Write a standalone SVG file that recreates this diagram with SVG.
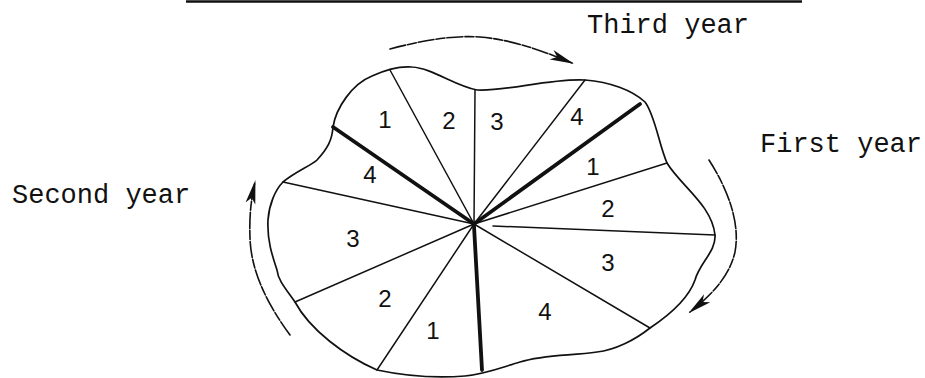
<svg xmlns="http://www.w3.org/2000/svg" width="925" height="378" viewBox="0 0 925 378">
  <style>
    .ink { fill: none; stroke: #111; stroke-linecap: round; stroke-linejoin: round; }
    .outline { stroke-width: 1.7; }
    .thin { stroke-width: 1.5; }
    .thick { stroke-width: 3.8; }
    .arrow { stroke-width: 1.6; stroke-dasharray: 16 2 9 2; }
    .num { font-family: "Liberation Sans", Arial, sans-serif; font-size: 24px; fill: #111; text-anchor: middle; }
    .cap { font-family: "Liberation Mono", "Courier New", monospace; font-size: 27px; fill: #111; }
  </style>
  <defs>
    <marker id="ah" viewBox="0 0 24 12" refX="22" refY="6" markerWidth="24" markerHeight="12" markerUnits="userSpaceOnUse" orient="auto">
      <path d="M0,1 L24,6 L0,11 L6,6 Z" fill="#111"/>
    </marker>
  </defs>
  <rect width="925" height="378" fill="#fff"/>

  <line id="top-rule" x1="186" y1="1.5" x2="802" y2="1.5" stroke="#111" stroke-width="2.6"/>

  <g id="field-outline">
    <path class="ink outline" d="M333,127 C336,108 352,84 372,76 C385,70 400,66 412,67 C432,68 455,86 477,90 C505,92 550,78 585,80 C610,82 632,90 645,102 C655,115 659,145 667,163 C680,185 712,205 715,235 C716,252 700,262 695,280 C688,300 665,318 650,328 C635,340 615,350 597,352 C570,356 545,354 520,362 C500,368 485,374 465,376 C440,378 410,377 377,370 C345,356 310,330 295,302 C285,288 278,280 277,270 C272,255 267,240 268,220 C269,205 275,190 283,182 C295,172 312,165 317,160 C328,148 332,140 333,127 Z"/>
  </g>

  <g id="connectors">
    <line class="ink thin" x1="474" y1="224" x2="390" y2="70"/>
    <line class="ink thin" x1="474" y1="224" x2="475" y2="90"/>
    <line class="ink thin" x1="474" y1="224" x2="585" y2="80"/>
    <line class="ink thick" x1="474" y1="224" x2="640" y2="104"/>
    <line class="ink thin" x1="474" y1="224" x2="667" y2="163"/>
    <line class="ink thin" x1="493" y1="226" x2="715" y2="235"/>
    <line class="ink thin" x1="474" y1="224" x2="650" y2="328"/>
    <line class="ink thick" x1="474" y1="226" x2="482" y2="370"/>
    <line class="ink thin" x1="474" y1="224" x2="377" y2="370"/>
    <line class="ink thin" x1="474" y1="224" x2="295" y2="302"/>
    <line class="ink thin" x1="474" y1="224" x2="283" y2="182"/>
    <line class="ink thick" x1="474" y1="224" x2="333" y2="127"/>
  </g>

  <g id="rotation-arrows">
    <path id="arrow-third" class="ink arrow" d="M390,49 C420,41 452,35 480,37 C515,40 545,52 572,63" marker-end="url(#ah)"/>
    <path id="arrow-first" class="ink arrow" d="M709,160 C725,185 741,220 735,252 C729,278 710,296 690,312" marker-end="url(#ah)"/>
    <path id="arrow-second" class="ink arrow" d="M290,335 C268,305 251,272 250,238 C249,212 252,196 255,182" marker-end="url(#ah)"/>
  </g>

  <g id="sector-labels">
    <text class="num" x="385" y="128">1</text>
    <text class="num" x="449" y="129">2</text>
    <text class="num" x="497" y="130">3</text>
    <text class="num" x="577" y="125">4</text>
    <text class="num" x="593" y="175">1</text>
    <text class="num" x="608" y="217">2</text>
    <text class="num" x="608" y="271">3</text>
    <text class="num" x="545" y="320">4</text>
    <text class="num" x="433" y="339">1</text>
    <text class="num" x="385" y="307">2</text>
    <text class="num" x="353" y="247">3</text>
    <text class="num" x="370" y="183">4</text>
  </g>

  <g id="year-captions">
    <text id="third-year" class="cap" x="587" y="33">Third year</text>
    <text id="first-year" class="cap" x="760" y="152">First year</text>
    <text id="second-year" class="cap" x="12" y="203">Second year</text>
  </g>
</svg>
